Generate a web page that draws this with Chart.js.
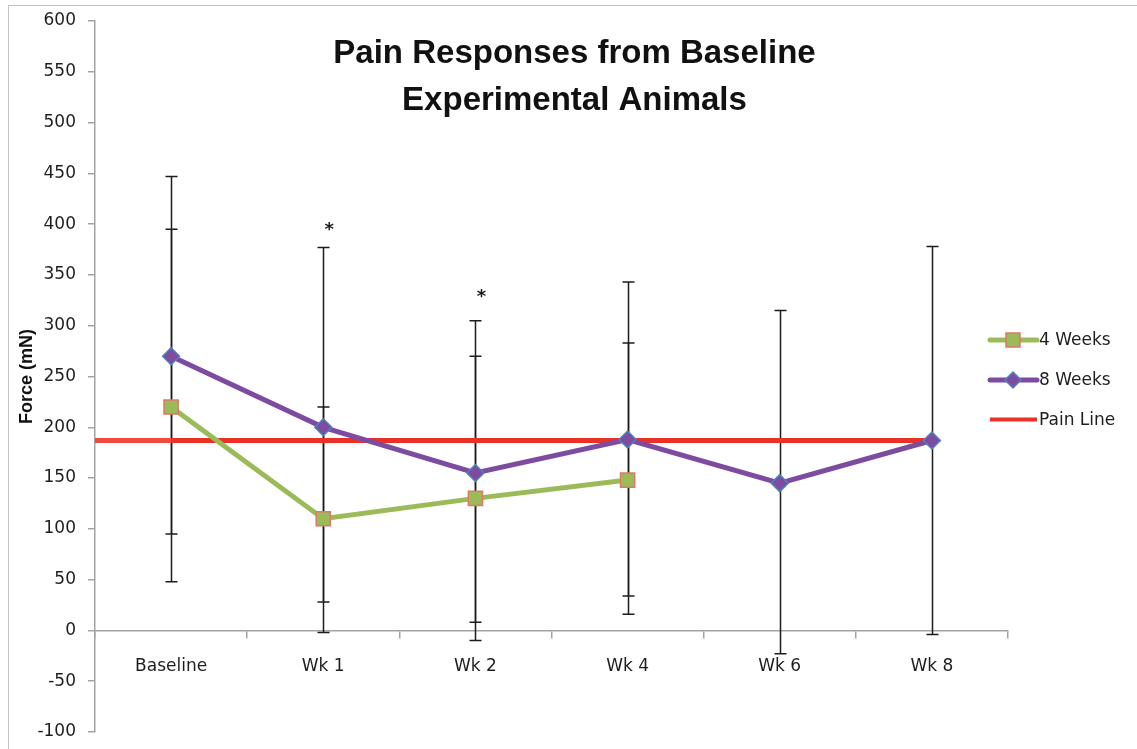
<!DOCTYPE html>
<html><head><meta charset="utf-8">
<script src="https://cdn.jsdelivr.net/npm/chart.js@4/dist/chart.umd.min.js"></script>
<style>
html,body{margin:0;padding:0;background:#fff;overflow:hidden;}
#wrap{position:relative;width:1137px;height:749px;}
#frame{position:absolute;left:8px;top:5px;width:1200px;height:800px;border:1px solid #c4c4c4;pointer-events:none;}
canvas{display:block;}
</style></head><body>
<div id="wrap"><canvas id="c" width="1137" height="749"></canvas><div id="frame"></div></div>
<script>
// ---- data ----
const categories = ['Baseline', 'Wk 1', 'Wk 2', 'Wk 4', 'Wk 6', 'Wk 8'];
const weeks4 = [220, 110, 130, 148, null, null];
const weeks8 = [270, 200, 155, 188, 145, 187];
const painLevel = 187;
const err4Low  = [48, -2, -10, 16, null, null];
const err4High = [395, 220, 270, 283, null, null];
const err8Low  = [95, 28, 8, 34, -23, -4];
const err8High = [447, 377, 305, 343, 315, 378];
const significance   = ['', '*', '*', '', '', ''];
const significanceAt = [null, 398, 332, null, null, null];
const yMin = -100, yMax = 600, yStep = 50;
const titleLines = ['Pain Responses from Baseline', 'Experimental Animals'];
const yTitle = 'Force (mN)';
const seriesNames = ['4 Weeks', '8 Weeks', 'Pain Line'];

// ---- styles ----
const GREEN = '#9BBB59', GREEN_EDGE = '#E0776A';
const PURPLE = '#7D4BA0', PURPLE_EDGE = '#4F81BD';
const RED = '#EA3125';
const TXT = '#1e1e1e';
const AXIS = '#a3a3a3';
const TICK_FONT = {family: 'DejaVu Sans', size: 17};

const painData = [
  {x: -0.5, y: painLevel},
  {x: 0, y: painLevel},
  {x: categories.length - 1, y: painLevel}
];

function drawMarker(ctx, type, x, y) {
  ctx.save();
  if (type === 'rect') {
    ctx.fillStyle = GREEN; ctx.strokeStyle = GREEN_EDGE; ctx.lineWidth = 1.5;
    ctx.beginPath(); ctx.rect(x - 7, y - 7, 14, 14); ctx.fill(); ctx.stroke();
  } else if (type === 'rectRot') {
    ctx.fillStyle = PURPLE; ctx.strokeStyle = PURPLE_EDGE; ctx.lineWidth = 1.5;
    ctx.beginPath(); ctx.moveTo(x, y - 8); ctx.lineTo(x + 8, y); ctx.lineTo(x, y + 8); ctx.lineTo(x - 8, y); ctx.closePath();
    ctx.fill(); ctx.stroke();
  }
  ctx.restore();
}

const decor = {
  id: 'decor',
  beforeDatasetsDraw(chart) {
    const {ctx, scales: {x, y}} = chart;
    ctx.save();
    ctx.strokeStyle = '#1c1c1c';
    ctx.lineWidth = 1.5;
    const bars = [[err4Low, err4High], [err8Low, err8High]];
    categories.forEach((c, i) => {
      const px = Math.round(x.getPixelForValue(i)) + 0.5;
      bars.forEach(([lo, hi]) => {
        if (lo[i] == null || hi[i] == null) return;
        const yl = y.getPixelForValue(lo[i]);
        const yh = y.getPixelForValue(hi[i]);
        ctx.beginPath();
        ctx.moveTo(px, yl); ctx.lineTo(px, yh);
        ctx.moveTo(px - 6, yl); ctx.lineTo(px + 6, yl);
        ctx.moveTo(px - 6, yh); ctx.lineTo(px + 6, yh);
        ctx.stroke();
      });
    });
    ctx.restore();
  },
  afterDatasetsDraw(chart) {
    const {ctx, scales: {x, y}} = chart;
    ctx.save();
    ctx.fillStyle = '#1c1c1c';
    ctx.font = 'bold 18px "DejaVu Sans"';
    ctx.textAlign = 'center';
    ctx.textBaseline = 'middle';
    significance.forEach((s, i) => {
      if (!s || significanceAt[i] == null) return;
      ctx.fillText(s, x.getPixelForValue(i) + 6, y.getPixelForValue(significanceAt[i]) + 4);
    });
    ctx.restore();
  },
  afterDraw(chart) {
    const {ctx, chartArea} = chart;
    ctx.save();
    // title
    ctx.fillStyle = '#111';
    ctx.font = 'bold 33px "Liberation Sans"';
    ctx.textAlign = 'center';
    ctx.textBaseline = 'alphabetic';
    const cx = chart.width / 2 + 6;
    ctx.fillText(titleLines[0], cx, 63);
    ctx.fillText(titleLines[1], cx, 110);
    // legend
    const mid = (chartArea.top + chartArea.bottom) / 2 + 3.5;
    const rows = [mid - 40, mid, mid + 39.5];
    const colors = [GREEN, PURPLE, RED];
    const markers = ['rect', 'rectRot', null];
    const x0 = chartArea.right - 18, x1 = chartArea.right + 29, mx = chartArea.right + 5;
    rows.forEach((ry, k) => {
      ctx.strokeStyle = colors[k];
      ctx.lineWidth = k === 2 ? 4 : 5;
      ctx.lineCap = k === 2 ? 'butt' : 'round';
      ctx.beginPath(); ctx.moveTo(x0, ry); ctx.lineTo(x1, ry); ctx.stroke();
      if (markers[k]) drawMarker(ctx, markers[k], mx, ry);
      ctx.fillStyle = TXT;
      ctx.font = '17px "DejaVu Sans"';
      ctx.textAlign = 'left';
      ctx.textBaseline = 'middle';
      ctx.fillText(seriesNames[k], chartArea.right + 31, ry + 1);
    });
    ctx.restore();
  }
};

new Chart(document.getElementById('c'), {
  type: 'line',
  data: {
    labels: categories,
    datasets: [
      {
        label: seriesNames[2], data: painData, xAxisID: 'xp',
        borderColor: RED, borderWidth: 5, pointRadius: 0, order: 3,
        segment: { borderColor: c => c.p0DataIndex === 0 ? '#EE4A3E' : RED }
      },
      {
        label: seriesNames[0], data: weeks4, xAxisID: 'x',
        borderColor: GREEN, borderWidth: 5,
        pointStyle: 'rect', pointRadius: 10, pointBackgroundColor: GREEN,
        pointBorderColor: GREEN_EDGE, pointBorderWidth: 1.5, order: 2
      },
      {
        label: seriesNames[1], data: weeks8, xAxisID: 'x',
        borderColor: PURPLE, borderWidth: 5,
        pointStyle: 'rectRot', pointRadius: 8.5, pointBackgroundColor: PURPLE,
        pointBorderColor: PURPLE_EDGE, pointBorderWidth: 1.5, order: 1
      }
    ]
  },
  options: {
    responsive: false,
    animation: false,
    events: [],
    layout: {padding: {left: 0, right: 129, top: 21, bottom: 17}},
    plugins: {legend: {display: false}, tooltip: {enabled: false}, title: {display: false}},
    scales: {
      x: {
        type: 'category', labels: categories, offset: true, position: {y: 0},
        grid: {offset: true, drawOnChartArea: false, drawTicks: true, tickLength: 7, color: AXIS, lineWidth: 1.5},
        border: {color: AXIS, width: 1.5},
        ticks: {color: TXT, font: TICK_FONT, padding: 19, maxRotation: 0, autoSkip: false}
      },
      xp: {type: 'linear', display: false, min: -0.5, max: categories.length - 0.5},
      y: {
        min: yMin, max: yMax,
        ticks: {stepSize: yStep, color: TXT, font: TICK_FONT, padding: 12},
        grid: {drawOnChartArea: false, drawTicks: true, tickLength: 7, color: AXIS, lineWidth: 1.5},
        border: {color: AXIS, width: 1.5},
        title: {display: true, text: yTitle, color: '#111',
                font: {family: 'Liberation Sans', weight: 'bold', size: 18}, padding: {top: 16, bottom: 0}},
        afterFit(scale) { scale.width = 95; scale.paddingTop = 0; scale.paddingBottom = 0; }
      }
    }
  },
  plugins: [decor]
});
</script>
</body></html>
